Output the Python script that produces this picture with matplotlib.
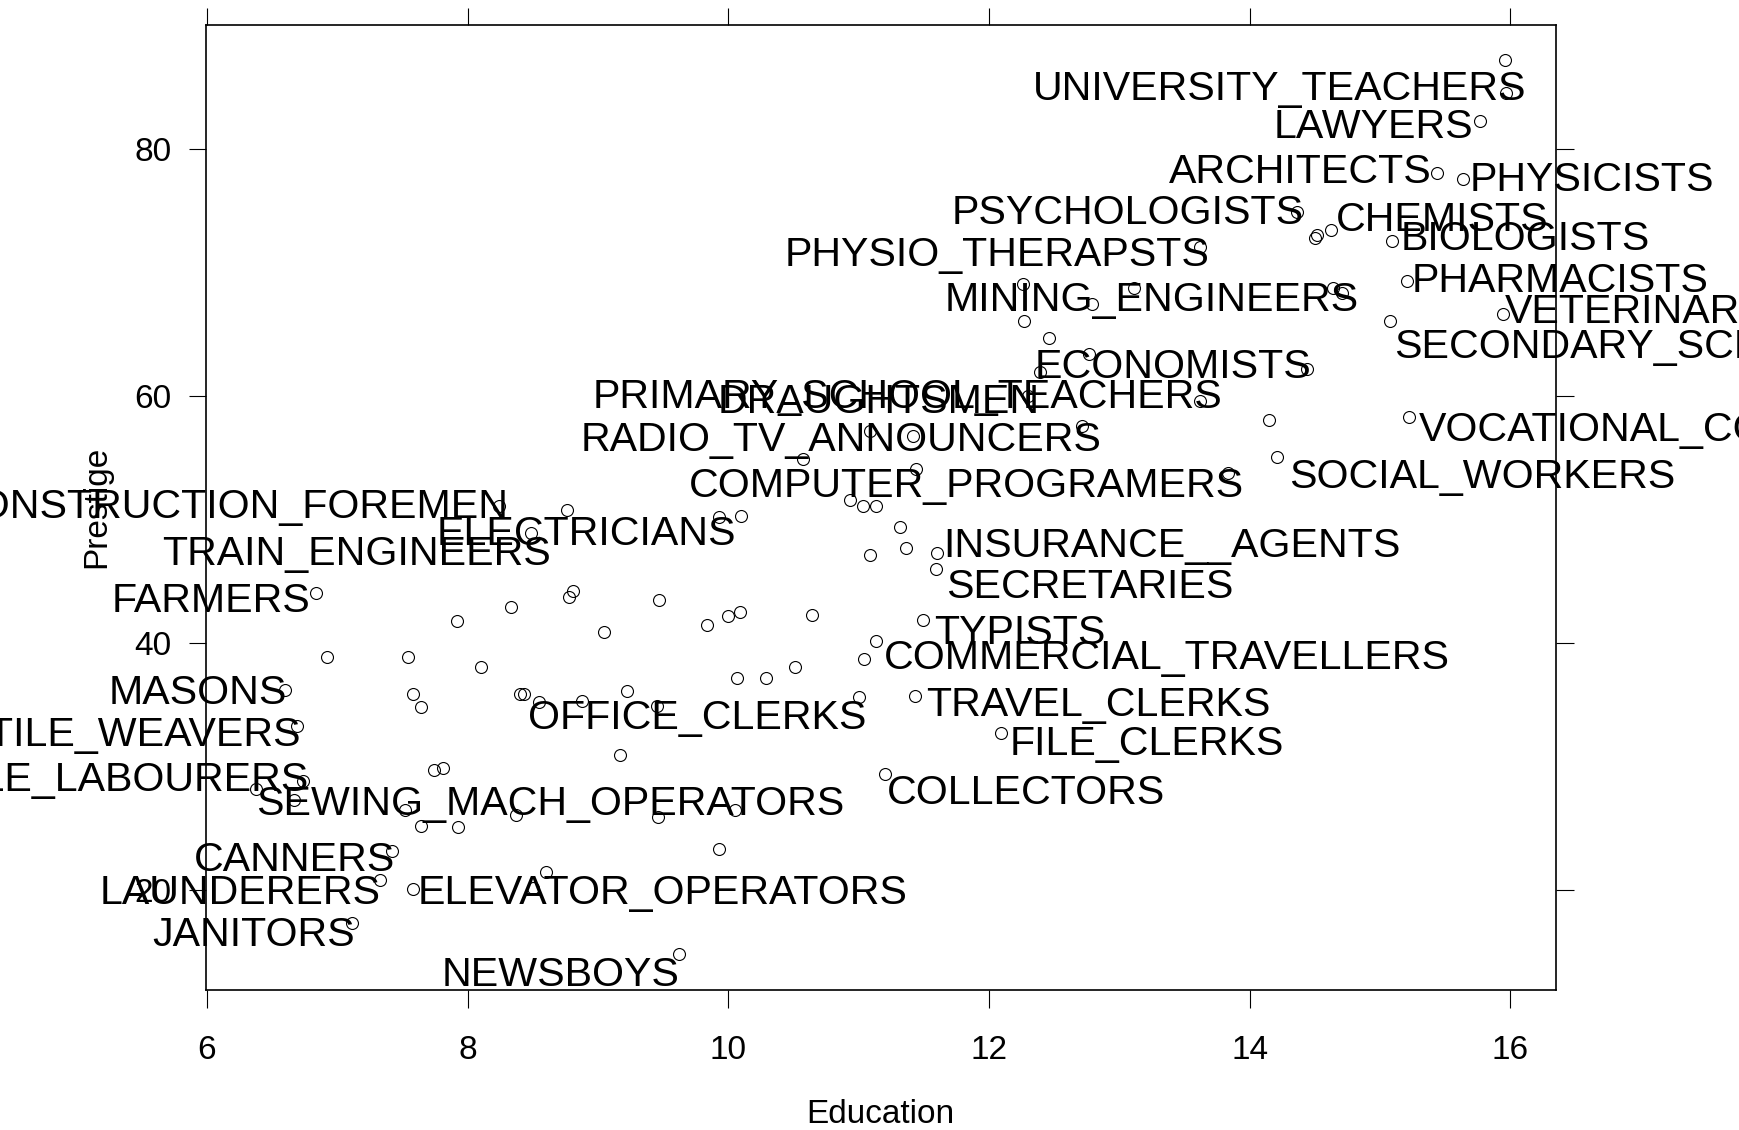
import matplotlib
matplotlib.use("Agg")
import matplotlib.pyplot as plt
import numpy as np

plt.rcParams['font.family'] = ['Liberation Sans', 'DejaVu Sans']

# Prestige of Canadian occupations: years of education vs. Pineo-Porter prestige
occupations = [
    "gov.administrators", "general.managers", "accountants", "purchasing.officers",
    "chemists", "physicists", "biologists", "architects", "civil.engineers",
    "mining.engineers", "surveyors", "draughtsmen", "computer.programers",
    "economists", "psychologists", "social.workers", "lawyers", "librarians",
    "vocational.counsellors", "ministers", "university.teachers",
    "primary.school.teachers", "secondary.school.teachers", "physicians",
    "veterinarians", "osteopaths.chiropractors", "nurses", "nursing.aides",
    "physio.therapsts", "pharmacists", "medical.technicians", "commercial.artists",
    "radio.tv.announcers", "athletes", "secretaries", "typists", "bookkeepers",
    "tellers.cashiers", "computer.operators", "shipping.clerks", "file.clerks",
    "receptionsts", "mail.carriers", "postal.clerks", "telephone.operators",
    "collectors", "claim.adjustors", "travel.clerks", "office.clerks",
    "sales.supervisors", "commercial.travellers", "sales.clerks", "newsboys",
    "service.station.attendant", "insurance.agents", "real.estate.salesmen",
    "buyers", "firefighters", "policemen", "cooks", "bartenders",
    "funeral.directors", "babysitters", "launderers", "janitors",
    "elevator.operators", "farmers", "farm.workers", "rotary.well.drillers",
    "bakers", "slaughterers.1", "slaughterers.2", "canners", "textile.weavers",
    "textile.labourers", "tool.die.makers", "machinists", "sheet.metal.workers",
    "welders", "auto.workers", "aircraft.workers", "electronic.workers",
    "radio.tv.repairmen", "sewing.mach.operators", "auto.repairmen",
    "aircraft.repairmen", "railway.sectionmen", "electrical.linemen",
    "electricians", "construction.foremen", "carpenters", "masons",
    "house.painters", "plumbers", "construction.labourers", "pilots",
    "train.engineers", "bus.drivers", "taxi.drivers", "longshoremen",
    "typesetters", "bookbinders",
]

education = [
    13.11, 12.26, 12.77, 11.42, 14.62, 15.64, 15.09, 15.44, 14.52, 14.64,
    12.39, 12.30, 13.83, 14.44, 14.36, 14.21, 15.77, 14.15, 15.22, 14.50,
    15.97, 13.62, 15.08, 15.96, 15.94, 14.71, 12.46, 9.45, 13.62, 15.21,
    12.79, 11.09, 12.71, 11.44, 11.59, 11.49, 11.32, 10.64, 11.36, 9.17,
    12.09, 11.04, 9.22, 10.07, 10.51, 11.20, 11.13, 11.43, 11.00, 9.84,
    11.13, 10.05, 9.62, 9.93, 11.60, 11.09, 11.03, 9.47, 10.93, 7.74,
    8.50, 10.57, 9.46, 7.33, 7.11, 7.58, 6.84, 8.60, 8.88, 7.54,
    7.64, 7.64, 7.42, 6.69, 6.74, 10.09, 8.81, 8.40, 7.92, 8.43,
    8.78, 8.76, 10.29, 6.38, 8.10, 10.10, 6.67, 9.05, 9.93, 8.24,
    6.92, 6.60, 7.81, 8.33, 7.52, 12.27, 8.49, 7.58, 7.93, 8.37,
    10.00, 8.55,
]

prestige = [
    68.8, 69.1, 63.4, 56.8, 73.5, 77.6, 72.6, 78.1, 73.1, 68.8,
    62.0, 60.0, 53.8, 62.2, 74.9, 55.1, 82.3, 58.1, 58.3, 72.8,
    84.6, 59.6, 66.1, 87.2, 66.7, 68.4, 64.7, 34.9, 72.1, 69.3,
    67.5, 57.2, 57.6, 54.1, 46.0, 41.9, 49.4, 42.3, 47.7, 30.9,
    32.7, 38.7, 36.1, 37.2, 38.1, 29.4, 51.1, 35.7, 35.6, 41.5,
    40.2, 26.5, 14.8, 23.3, 47.3, 47.1, 51.1, 43.5, 51.6, 29.7,
    20.2, 54.9, 25.9, 20.8, 17.3, 20.1, 44.1, 21.5, 35.3, 38.9,
    25.2, 34.8, 23.2, 33.3, 28.8, 42.5, 44.2, 35.9, 41.8, 35.9,
    43.7, 50.8, 37.2, 28.2, 38.1, 50.3, 27.3, 40.9, 50.2, 51.1,
    38.9, 36.2, 29.9, 42.9, 26.5, 66.1, 48.9, 35.9, 25.1, 26.1,
    42.2, 35.2,
]

# Occupation labels drawn on the panel and where each one sits (data units)
label_text = [
    "UNIVERSITY_TEACHERS", "LAWYERS", "ARCHITECTS", "PHYSICISTS",
    "PSYCHOLOGISTS", "CHEMISTS", "BIOLOGISTS", "PHYSIO_THERAPSTS",
    "PHARMACISTS", "MINING_ENGINEERS", "VETERINARIANS",
    "SECONDARY_SCHOOL_TEACHERS", "ECONOMISTS", "PRIMARY_SCHOOL_TEACHERS",
    "DRAUGHTSMEN", "VOCATIONAL_COUNSELLORS", "RADIO_TV_ANNOUNCERS",
    "SOCIAL_WORKERS", "COMPUTER_PROGRAMERS", "CONSTRUCTION_FOREMEN",
    "ELECTRICIANS", "INSURANCE__AGENTS", "TRAIN_ENGINEERS", "SECRETARIES",
    "FARMERS", "TYPISTS", "COMMERCIAL_TRAVELLERS", "MASONS", "TRAVEL_CLERKS",
    "OFFICE_CLERKS", "TEXTILE_WEAVERS", "FILE_CLERKS", "TEXTILE_LABOURERS",
    "COLLECTORS", "SEWING_MACH_OPERATORS", "CANNERS", "LAUNDERERS",
    "ELEVATOR_OPERATORS", "JANITORS", "NEWSBOYS",
]
label_x = [
    12.34, 14.18, 13.38, 15.69, 11.71, 14.66, 15.16, 10.43, 15.24, 11.66,
    15.96, 15.11, 12.35, 8.96, 9.92, 15.30, 8.87, 14.30, 9.70, 8.32,
    7.76, 11.65, 5.66, 11.67, 5.27, 11.58, 11.19, 5.25, 11.52, 8.46,
    6.72, 12.16, 6.78, 11.22, 6.38, 5.90, 5.18, 7.62, 5.58, 7.80,
]
label_y = [
    84.03, 80.92, 77.27, 76.59, 73.97, 73.35, 71.87, 70.59, 68.48, 66.94,
    65.92, 63.08, 61.46, 59.03, 58.62, 56.40, 55.59, 52.54, 51.86, 50.15,
    47.94, 46.99, 46.37, 43.62, 42.53, 39.97, 37.94, 35.04, 34.07, 33.07,
    31.66, 30.91, 27.99, 26.99, 26.04, 21.52, 18.88, 18.88, 15.44, 12.25,
]
label_align = [
    "left", "left", "left", "left", "left", "left", "left", "left", "left", "left",
    "left", "left", "left", "left", "left", "left", "left", "left", "left", "right",
    "left", "left", "left", "left", "left", "left", "left", "left", "left", "left",
    "right", "left", "right", "left", "left", "left", "left", "left", "left", "left",
]

x_ticks = [6, 8, 10, 12, 14, 16]
y_ticks = [20, 40, 60, 80]

W, H = 1740, 1130
fig = plt.figure(figsize=(W / 100, H / 100), dpi=100)
left, right, top, bottom = 206.4, 1556.5, 24.7, 990.0
ax = fig.add_axes([left / W, 1 - bottom / H, (right - left) / W, (bottom - top) / H])

ax.plot(education, prestige, linestyle="none", marker="o", markersize=8.6,
        markerfacecolor="none", markeredgecolor="black", markeredgewidth=0.8)

for txt, lx, ly, ha in zip(label_text, label_x, label_y, label_align):
    ax.text(lx, ly, txt, ha=ha, va="baseline", fontsize=29.6, color="black")

# 4% padding around the data range on both axes
ex = np.array(education)
py = np.array(prestige)
pad_x = 0.04 * (ex.max() - ex.min())
pad_y = 0.04 * (py.max() - py.min())
ax.set_xlim(ex.min() - pad_x, ex.max() + pad_x)
ax.set_ylim(py.min() - pad_y, py.max() + pad_y)

ax.set_xticks(x_ticks)
ax.set_yticks(y_ticks)
ax.set_xticklabels([str(v) for v in x_ticks])
ax.set_yticklabels([str(v) for v in y_ticks])
ax.tick_params(axis="both", direction="out", length=12.6, width=0.8,
               labelsize=24, top=True, right=True,
               labeltop=False, labelright=False)
ax.tick_params(axis="x", pad=20)
ax.tick_params(axis="y", pad=12.5)
for s in ax.spines.values():
    s.set_linewidth(1.2)

fig.text(880.5 / W, 1 - 1123.3 / H, "Education", ha="center", va="baseline", fontsize=24)
fig.text(97 / W, 1 - 507 / H, "Prestige", ha="center", va="center",
         rotation=90, fontsize=24)

fig.savefig("out.png", dpi=100)
